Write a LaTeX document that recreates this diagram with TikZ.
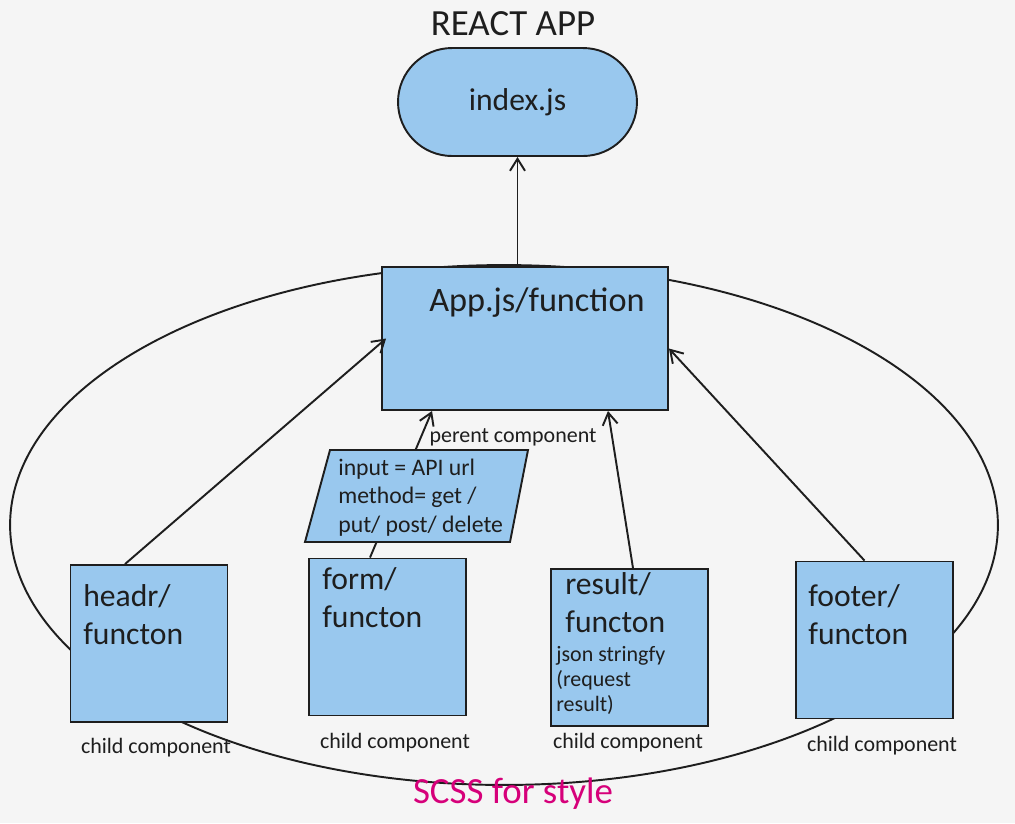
\documentclass[tikz,border=0pt]{standalone}
\usepackage{fontspec}
\setmainfont{Carlito}
\usepackage{xcolor}
\usetikzlibrary{shapes.geometric, arrows.meta}

\definecolor{boxblue}{HTML}{99C8EE}
\definecolor{inkline}{HTML}{1E1E1E}
\definecolor{scsspink}{HTML}{D6007A}
\definecolor{paper}{HTML}{F5F5F5}

\begin{document}
\begin{tikzpicture}[x=0.02cm, y=-0.02cm,
        childbox/.style={rectangle, draw=inkline, fill=boxblue, line width=1.1pt, minimum width=3.14cm, minimum height=3.14cm, inner sep=0pt},
        boxtext/.style={anchor=north west, align=left, inner sep=0pt, font=\fontsize{18}{22}\selectfont, text=inkline},
        smalltext/.style={inner sep=0pt, font=\fontsize{12.5}{14}\selectfont, text=inkline},
        arr/.style={-{Straight Barb[length=2.4mm, width=3mm]}, draw=inkline, line width=1.1pt}
        ]
            \fill[paper] (0,0) rectangle (1015,823);
            \useasboundingbox (0,0) rectangle (1015,823);

            % outer ring
            \node[ellipse, draw=inkline, line width=1.1pt, minimum width=19.76cm, minimum height=10.4cm] (stylering) at (504,525) {};
            \node[text=scsspink, inner sep=0pt, font=\fontsize{21}{24}\selectfont] (scss) at (513,794) {SCSS for style};

            % top
            \node[text=inkline, inner sep=0pt, font=\fontsize{21}{24}\selectfont] (title) at (513,24) {REACT APP};
            \node[rectangle, rounded corners=1.08cm, draw=inkline, fill=boxblue, line width=1.1pt, minimum width=4.78cm, minimum height=2.16cm, font=\fontsize{18}{20}\selectfont, text=inkline] (index) at (517.5,102) {index.js};

            % parent
            \node[rectangle, draw=inkline, fill=boxblue, line width=1.1pt, minimum width=5.72cm, minimum height=2.86cm] (App) at (525,338.5) {};
            \node[inner sep=0pt, font=\fontsize{19.5}{22}\selectfont, text=inkline] (Apptext) at (537,303) {App.js/function};
            \node[smalltext] (parent) at (513,437) {perent component};

            % children
            \node[childbox] (headr) at (149,643.5) {};
            \node[childbox] (form) at (387.5,637) {};
            \node[childbox] (result) at (629.5,647.5) {};
            \node[childbox] (footer) at (874.5,640) {};

            \node[boxtext] (headrtext) at (83,584) {headr/\\functon};
            \node[boxtext] (formtext) at (322,567) {form/\\functon};
            \node[boxtext] (resulttext) at (565,572) {result/\\functon};
            \node[boxtext] (footertext) at (808,584) {footer/\\functon};
            \node[smalltext, anchor=north west, align=left, font=\fontsize{12.5}{14.2}\selectfont] (json) at (556,646) {json stringfy\\(request\\result)};

            \node[smalltext] (headrlbl) at (156,748) {child component};
            \node[smalltext] (formlbl) at (395,743) {child component};
            \node[smalltext] (resultlbl) at (628,743) {child component};
            \node[smalltext] (footerlbl) at (882,746) {child component};

            % connectors
            \draw[arr] (index.south |- App.north) -- (index.south);
            \draw[arr] ([xshift=-0.48cm]headr.north) -- ([xshift=0.1cm]App.west);
            \draw[arr] ([xshift=-0.35cm]form.north) -- ([xshift=-1.86cm]App.south);
            \draw[arr] ([xshift=0.07cm]result.north) -- ([xshift=1.66cm]App.south);
            \draw[arr] ([xshift=-0.2cm]footer.north) -- ([yshift=-0.2cm]App.east);

            % request box
            \coordinate (reqA) at (330,450);
            \coordinate (reqB) at (528,450);
            \coordinate (reqC) at (510,542);
            \coordinate (reqD) at (305,542);
            \draw[draw=inkline, fill=boxblue, line width=1.1pt] (reqA) -- (reqB) -- (reqC) -- (reqD) -- cycle;
            \node[smalltext, anchor=north west, align=left, font=\fontsize{13.5}{16}\selectfont] (request) at (338,459) {input = API url\\method= get /\\put/ post/ delete};

        \end{tikzpicture}
\end{document}
